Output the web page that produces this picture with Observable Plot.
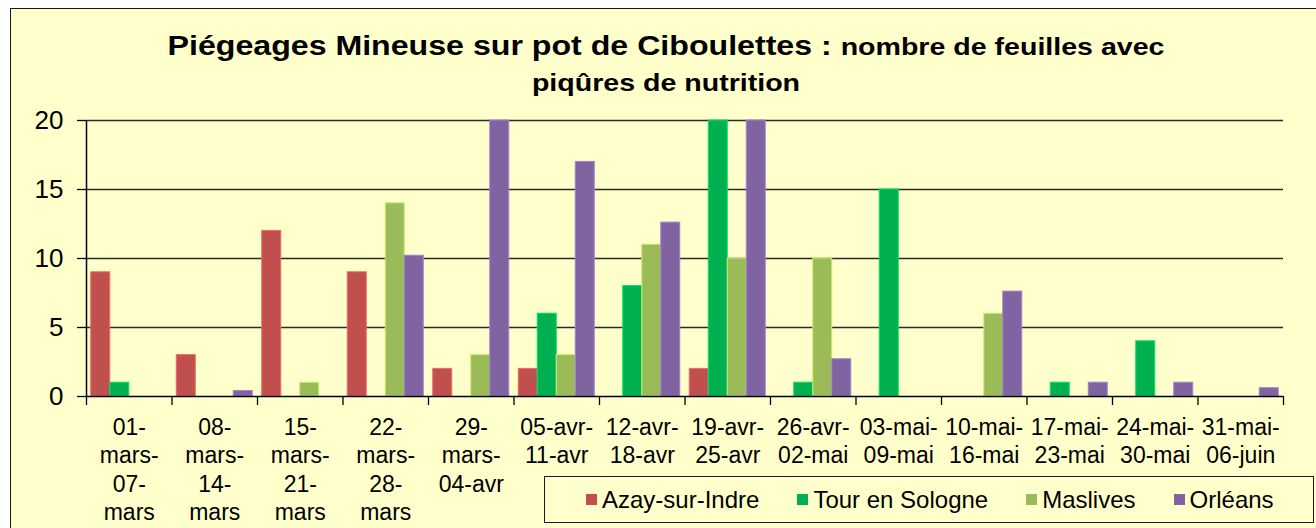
<!DOCTYPE html>
<html>
<head>
<meta charset="utf-8">
<script src="https://cdn.jsdelivr.net/npm/d3@7"></script>
<script src="https://cdn.jsdelivr.net/npm/@observablehq/plot@0.6"></script>
<style>
  html, body { margin: 0; padding: 0; background: #ffffff; width: 1316px; height: 528px; overflow: hidden; font-family: "Liberation Sans", Arial, sans-serif; }
  #frame { position: absolute; left: 10px; top: 8px; width: 1330px; height: 560px; border: 1px solid #1a1a1a; background: #FFFFCC; }
  #title { position: absolute; left: 10px; top: 28px; width: 1312px; text-align: center; font-weight: bold; font-size: 24px; line-height: 36px; color: #000; transform: scaleX(1.19); transform-origin: 656px 0; white-space: nowrap; }
  #title .big { font-size: 27px; }
  #chart { position: absolute; left: 0; top: 100px; }
  #legend { position: absolute; left: 544px; top: 476px; width: 770px; height: 47px; border: 1px solid #1a1a1a; background: #FFFFCC; display: flex; align-items: center; padding-left: 41px; box-sizing: border-box; font-size: 24px; color: #000; white-space: nowrap; }
  #legend .item { display: flex; align-items: center; margin-right: 38px; }
  #legend .sw { width: 11px; height: 11px; margin-right: 5px; }
</style>
</head>
<body>
<div id="frame"></div>
<div id="title"><span class="big">Piégeages Mineuse sur pot de Ciboulettes : </span>nombre de feuilles avec<br>piqûres de nutrition</div>
<div id="chart"></div>
<div id="legend"></div>
<script>
// ---- data ----
const categories = [
  "01-\nmars-\n07-\nmars", "08-\nmars-\n14-\nmars", "15-\nmars-\n21-\nmars", "22-\nmars-\n28-\nmars",
  "29-\nmars-\n04-avr", "05-avr-\n11-avr", "12-avr-\n18-avr", "19-avr-\n25-avr",
  "26-avr-\n02-mai", "03-mai-\n09-mai", "10-mai-\n16-mai", "17-mai-\n23-mai",
  "24-mai-\n30-mai", "31-mai-\n06-juin"
];
const seriesNames = ["Azay-sur-Indre", "Tour en Sologne", "Maslives", "Orléans"];
const azay     = [9, 3, 12, 9, 2, 2, 0, 2, 0, 0, 0, 0, 0, 0];
const tour     = [1, 0, 0, 0, 0, 6, 8, 20, 1, 15, 0, 1, 4, 0];
const maslives = [0, 0, 1, 14, 3, 3, 11, 10, 10, 0, 6, 0, 0, 0];
const orleans  = [0, 0.4, 0, 10.2, 20, 17, 12.6, 20, 2.7, 0, 7.6, 1, 1, 0.6];
const yTicks = [0, 5, 10, 15, 20];
const colors = ["#C0504D", "#00B050", "#9BBB59", "#8064A2"];

// ---- build table ----
const seriesValues = [azay, tour, maslives, orleans];
const nS = seriesNames.length;
const gapRatio = 0.5;                 // Excel gap width (fraction of one bar)
const w = 1 / (nS + gapRatio);        // bar width in category units
const rows = [];
seriesValues.forEach((vals, s) => {
  vals.forEach((v, i) => {
    if (v > 0) {
      const x1 = i + (gapRatio / 2) * w + s * w;
      rows.push({cat: i, series: seriesNames[s], s, v, x1, x2: x1 + w});
    }
  });
});

const strokeColors = colors.map(c => d3.color(c).brighter(0.7).formatHex());

const plot = Plot.plot({
  width: 1316,
  height: 428,
  marginLeft: 86,
  marginRight: 33,
  marginTop: 20,
  marginBottom: 132,
  style: {background: "transparent", fontFamily: "Liberation Sans, Arial, sans-serif", color: "#000", overflow: "visible"},
  x: {type: "linear", domain: [0, categories.length], label: null},
  y: {domain: [0, 20], label: null},
  color: {domain: seriesNames, range: colors},
  marks: [
    Plot.gridY(yTicks.filter(t => t > 0), {stroke: "#2a2a2a", strokeOpacity: 1, strokeWidth: 1.6}),
    Plot.rectY(rows, {
      x1: "x1", x2: "x2", y1: 0, y2: "v",
      fill: "series",
      stroke: d => strokeColors[d.s],
      strokeWidth: 1
    }),
    Plot.ruleY([0], {stroke: "#000", strokeWidth: 1.5}),
    Plot.ruleX([0], {stroke: "#000", strokeWidth: 1.5}),
    Plot.axisY({ticks: yTicks, tickSize: 9, tickPadding: 14, fontSize: 26, stroke: "#000", strokeWidth: 1.3, label: null}),
    Plot.axisX({ticks: d3.range(categories.length + 1), tickSize: 9, tickFormat: () => "", stroke: "#000", strokeWidth: 1.3, label: null}),
    Plot.axisX({
      ticks: d3.range(categories.length).map(i => i + 0.5),
      tickSize: 0, tickPadding: 19, fontSize: 23, lineHeight: 1.22, lineAnchor: "top",
      tickFormat: t => categories[Math.floor(t)], label: null
    })
  ]
});
document.getElementById("chart").appendChild(plot);

// legend
const legend = document.getElementById("legend");
seriesNames.forEach((name, i) => {
  const item = document.createElement("div");
  item.className = "item";
  const sw = document.createElement("div");
  sw.className = "sw";
  sw.style.background = colors[i];
  const label = document.createElement("span");
  label.textContent = name;
  item.appendChild(sw);
  item.appendChild(label);
  legend.appendChild(item);
});
</script>
</body>
</html>
